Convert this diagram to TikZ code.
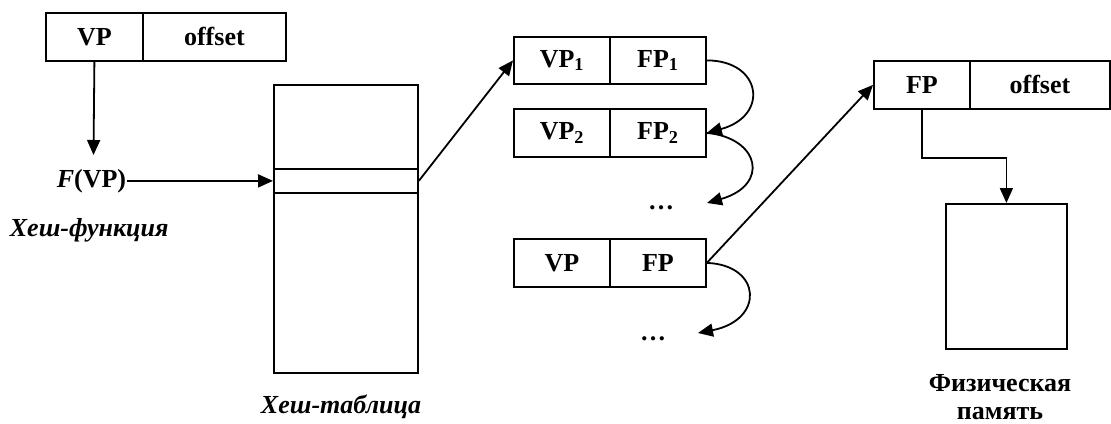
\documentclass[tikz,border=0pt]{standalone}
\usepackage{fontspec}
\setmainfont{Liberation Serif}
\usetikzlibrary{arrows.meta}
\begin{document}
\begin{tikzpicture}[x=1pt,y=-1pt,
  font=\fontsize{26}{30}\selectfont\bfseries,
  line width=1.8pt,
  cell/.style={draw,rectangle,inner sep=0pt,anchor=north west},
  arr/.style={-{Triangle[length=15pt,width=13pt]}},
  lbl/.style={inner sep=0pt}]
\useasboundingbox (0,0) rectangle (1111,423);
% top-left virtual address
\node[cell,minimum width=97,minimum height=48] (vp) at (45,12) {VP};
\node[cell,minimum width=143,minimum height=48] (off) at (142,12) {offset};
% F(VP)
\node[lbl,anchor=east] (fvp) at (127,181) {\textit{F}(VP)};
\coordinate (fvptop) at (93.5,155);
\node[lbl,anchor=west,font=\fontsize{26}{30}\selectfont\bfseries\itshape] (hf) at (9,230) {Хеш-функция};
% hash table
\node[cell,minimum width=144,minimum height=288] (ht) at (273,84) {};
\node[cell,minimum width=144,minimum height=24] (row) at (273,168) {};
\node[lbl,font=\fontsize{26}{30}\selectfont\bfseries\itshape] (htl) at (341,407) {Хеш-таблица};
% chain entries
\node[cell,minimum width=96,minimum height=47] (vp1) at (513,36) {VP\textsubscript{1}};
\node[cell,minimum width=96,minimum height=47] (fp1) at (609,36) {FP\textsubscript{1}};
\node[cell,minimum width=96,minimum height=48] (vp2) at (513,108) {VP\textsubscript{2}};
\node[cell,minimum width=96,minimum height=48] (fp2) at (609,108) {FP\textsubscript{2}};
\node[lbl] (d1) at (661,208) {…};
\node[cell,minimum width=96,minimum height=48] (vpn) at (513,238) {VP};
\node[cell,minimum width=96,minimum height=48] (fpn) at (609,238) {FP};
\node[lbl] (d2) at (653,339) {…};
\coordinate (c1) at (707,203);
\coordinate (c2) at (698,333);
% physical address
\node[cell,minimum width=96,minimum height=48] (fpr) at (873,60) {FP};
\node[cell,minimum width=140,minimum height=48] (offr) at (969,60) {offset};
% memory
\node[cell,minimum width=121,minimum height=145] (mem) at (945,203) {};
\node[lbl,align=center,font=\fontsize{26}{28}\selectfont\bfseries] (meml) at (1000,397) {Физическая\\память};
% connectors
\draw[arr] (vp.south) -- (fvptop);
\draw[arr] (fvp.east) -- (row.west);
\draw[arr] (row.east) -- (vp1.west);
\draw[arr] (fp1.east) .. controls +(55,0) and +(63,-17) .. (fp2.east);
\draw[arr] (fp2.east) .. controls +(53,5) and +(63,-18) .. (c1);
\draw[arr] (fpn.east) .. controls +(55,2) and +(67,-13) .. (c2);
\draw[arr] (fpn.east) -- (fpr.west);
\draw[arr] (fpr.south) -- ++(0,48) -| (mem.north);
\end{tikzpicture}
\end{document}
